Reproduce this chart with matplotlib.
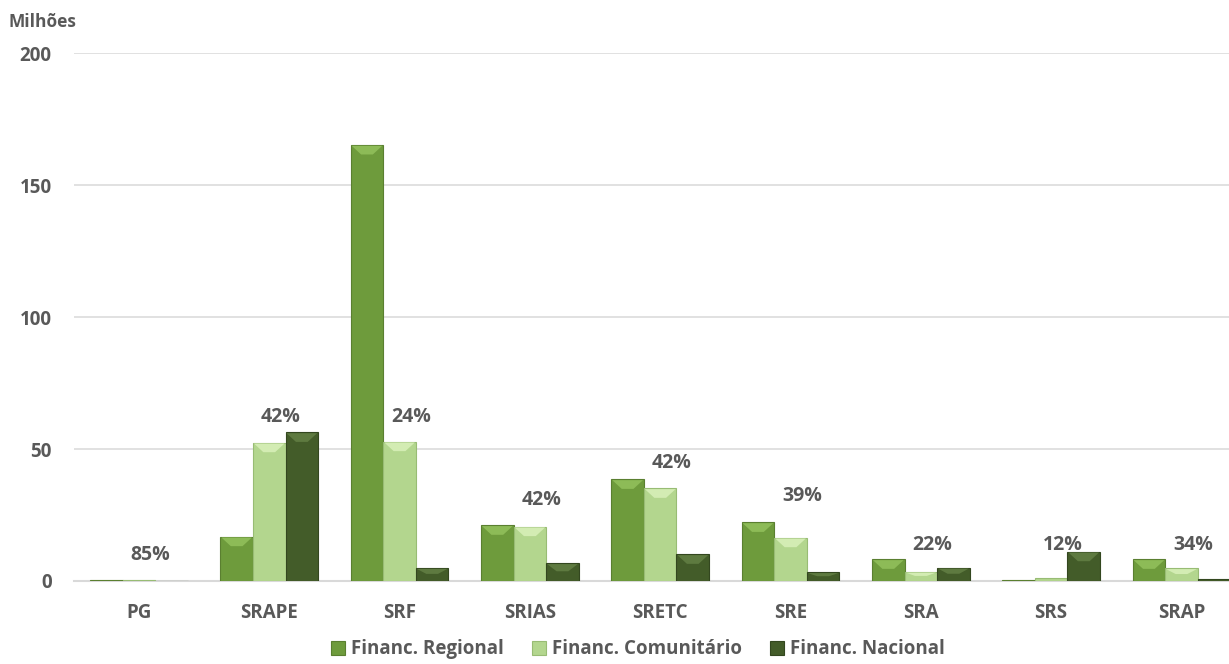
import numpy as np
import matplotlib
matplotlib.use("Agg")
import matplotlib.pyplot as plt
from matplotlib.patches import Polygon

# data (millions)
categories = ["PG", "SRAPE", "SRF", "SRIAS", "SRETC", "SRE", "SRA", "SRS", "SRAP"]
financ_regional = [0.2, 16.8, 165.2, 21.1, 38.5, 22.2, 8.2, 0.3, 8.2]
financ_comunitario = [0.3, 52.4, 52.8, 20.6, 35.1, 16.4, 3.5, 1.0, 4.8]
financ_nacional = [0.1, 56.3, 4.9, 6.7, 10.1, 3.3, 5.0, 11.1, 0.8]
pct_labels = ["85%", "42%", "24%", "42%", "42%", "39%", "22%", "12%", "34%"]
pct_label_height = [9.8, 62.1, 62.1, 30.7, 44.7, 32.2, 13.6, 13.6, 13.6]
series_names = ["Financ. Regional", "Financ. Comunitário", "Financ. Nacional"]

colors = ["#6E9B3C", "#B3D68E", "#435C29"]
edges = ["#5A7F30", "#98BC74", "#33471F"]
tops = ["#8DBB57", "#D3ECB3", "#5E7A40"]
text_grey = "#595959"

plt.rcParams["font.family"] = ["Open Sans", "DejaVu Sans"]
plt.rcParams["font.weight"] = "bold"

fig = plt.figure(figsize=(12.29, 6.64), dpi=100)
ax = fig.add_axes([0.060, 0.125, 0.948, 0.795])

x = np.arange(len(categories))
w = 0.25
all_series = [financ_regional, financ_comunitario, financ_nacional]
bar_groups = []
for k, vals in enumerate(all_series):
    bars = ax.bar(x + (k - 1) * w, vals, width=w, color=colors[k],
                  edgecolor=edges[k], linewidth=0.8, label=series_names[k], zorder=3)
    bar_groups.append(bars)

# soft bevel on top of each bar
bevel = 3.6
for k, bars in enumerate(bar_groups):
    for b in bars:
        h = b.get_height()
        if h < 1.5:
            continue
        bh = min(bevel, h * 0.45)
        x0 = b.get_x()
        bw = b.get_width()
        poly = Polygon([[x0 + bw * 0.03, h - 0.3], [x0 + bw * 0.97, h - 0.3],
                        [x0 + bw * 0.68, h - bh], [x0 + bw * 0.32, h - bh]],
                       closed=True, facecolor=tops[k], edgecolor="none", zorder=4)
        ax.add_patch(poly)

for i, (lab, hy) in enumerate(zip(pct_labels, pct_label_height)):
    ax.text(i + 0.09, hy, lab, ha="center", va="center", fontsize=14,
            fontweight="bold", color=text_grey, zorder=5)

ax.set_xlim(-0.5, len(categories) - 0.56)
ax.set_ylim(0, 200)
ax.set_yticks([0, 50, 100, 150, 200])
ax.set_xticks(x)
ax.set_xticklabels(categories)
ax.yaxis.grid(True, color="#D9D9D9", linewidth=1.1, zorder=0)
ax.set_axisbelow(True)
for s in ["left", "right", "top"]:
    ax.spines[s].set_visible(False)
ax.spines["bottom"].set_color("#D9D9D9")
ax.spines["bottom"].set_linewidth(1.5)
ax.tick_params(axis="both", length=0, labelsize=13.5, labelcolor=text_grey)
ax.tick_params(axis="y", pad=16)
ax.tick_params(axis="x", pad=16)
for t in ax.get_xticklabels() + ax.get_yticklabels():
    t.set_fontweight("bold")

fig.text(8 / 1229, 1 - 22 / 664, "Milhões", ha="left", va="center",
         fontsize=12.5, fontweight="bold", color=text_grey)

leg = fig.legend(loc="center", bbox_to_anchor=(0.519, 0.022), ncol=3, frameon=False,
                 handlelength=0.75, handleheight=0.75, handletextpad=0.3,
                 columnspacing=1.5, prop={"size": 13.5, "weight": "bold"})
for t in leg.get_texts():
    t.set_color(text_grey)

fig.savefig("out.png", dpi=100)
